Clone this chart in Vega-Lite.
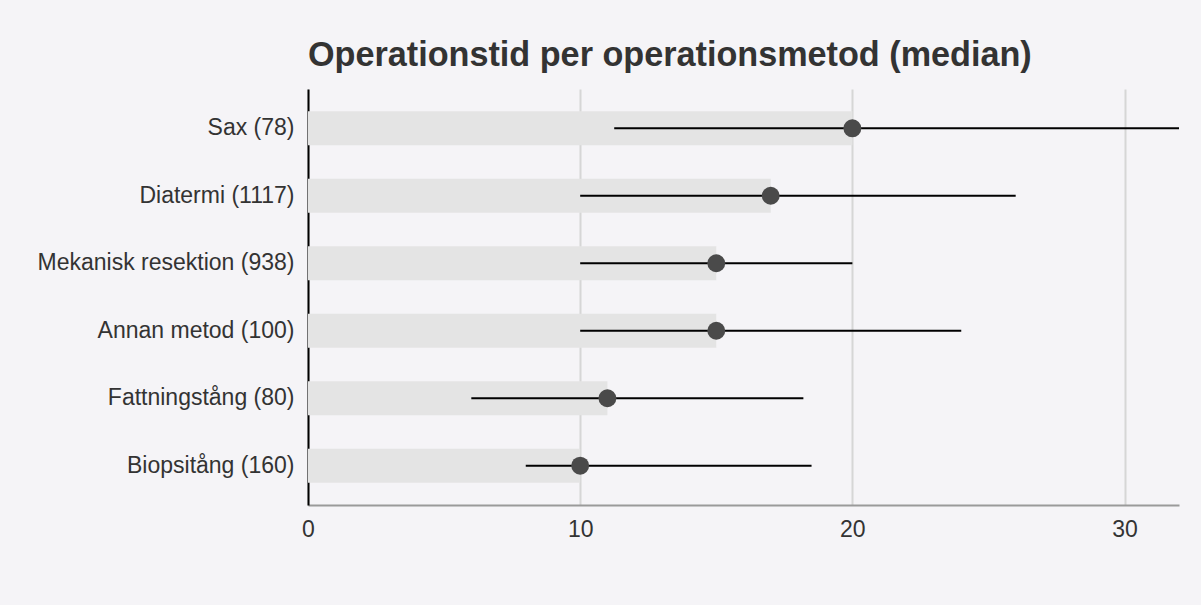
{
  "$schema": "https://vega.github.io/schema/vega-lite/v6.json",
  "autosize": "none",
  "width": 871,
  "height": 416,
  "padding": {"left": 308, "top": 89, "right": 22, "bottom": 100},
  "background": "#f5f4f7",
  "title": {
    "text": "Operationstid per operationsmetod (median)",
    "anchor": "start",
    "frame": "group",
    "font": "Liberation Sans",
    "fontSize": 34.2,
    "fontWeight": "bold",
    "color": "#333333",
    "offset": 16
  },
  "config": {
    "view": {"stroke": null},
    "font": "Liberation Sans"
  },
  "data": {
    "values": [
      {"metod": "Sax (78)", "median": 20, "lo": 11.25, "hi": 34},
      {"metod": "Diatermi (1117)", "median": 17, "lo": 10, "hi": 26},
      {"metod": "Mekanisk resektion (938)", "median": 15, "lo": 10, "hi": 20},
      {"metod": "Annan metod (100)", "median": 15, "lo": 10, "hi": 24},
      {"metod": "Fattningstång (80)", "median": 11, "lo": 6, "hi": 18.2},
      {"metod": "Biopsitång (160)", "median": 10, "lo": 8, "hi": 18.5}
    ]
  },
  "encoding": {
    "y": {
      "field": "metod",
      "type": "nominal",
      "sort": null,
      "scale": {"paddingInner": 0.495, "paddingOuter": 0.33},
      "axis": {
        "title": null,
        "ticks": false,
        "grid": false,
        "domainColor": "#000000",
        "domainWidth": 2,
        "labelFontSize": 23,
        "labelColor": "#333333",
        "labelPadding": 14,
        "labelLimit": 400,
        "labelFont": "Liberation Sans"
      }
    }
  },
  "layer": [
    {
      "mark": {"type": "bar", "color": "#e4e4e4", "clip": true},
      "encoding": {
        "x": {
          "field": "median",
          "type": "quantitative",
          "scale": {"domain": [0, 32], "nice": false, "zero": true},
          "axis": {
            "title": null,
            "values": [0, 10, 20, 30],
            "ticks": false,
            "grid": true,
            "gridColor": "#d6d6d6",
            "gridWidth": 2,
            "domainColor": "#9a9a9a",
            "domainWidth": 2,
            "labelFontSize": 23,
            "labelColor": "#333333",
            "labelPadding": 13,
            "labelFlush": false,
            "labelFont": "Liberation Sans"
          }
        }
      }
    },
    {
      "mark": {"type": "rule", "color": "#000000", "strokeWidth": 2, "clip": true},
      "encoding": {
        "x": {"field": "lo", "type": "quantitative"},
        "x2": {"field": "hi"}
      }
    },
    {
      "mark": {"type": "point", "filled": true, "shape": "circle", "color": "#4a4a4a", "opacity": 1, "size": 320},
      "encoding": {
        "x": {"field": "median", "type": "quantitative"}
      }
    }
  ]
}
